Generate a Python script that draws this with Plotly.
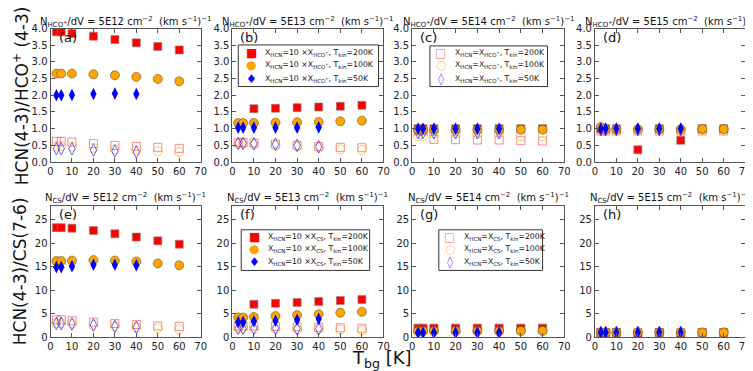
import plotly.graph_objects as go

# background temperatures [K]
tbg = [2.73, 5, 10, 20, 30, 40, 50, 60]
tbg50 = tbg[:6]

# HCN/HCO+ ratios, filled = X_HCN = 10 X_HCO+, open = X_HCN = X_HCO+
a_fill_200 = [3.9, 3.9, 3.85, 3.77, 3.67, 3.57, 3.46, 3.36]
a_fill_100 = [2.65, 2.65, 2.65, 2.63, 2.6, 2.55, 2.49, 2.42]
a_fill_50 = [2.0, 2.0, 2.01, 2.04, 2.05, 2.04]
a_open_200 = [0.62, 0.62, 0.6, 0.55, 0.5, 0.47, 0.44, 0.41]
a_open_100 = [0.48, 0.48, 0.46, 0.42, 0.38, 0.35, 0.32, 0.3]
a_open_50 = [0.4, 0.4, 0.4, 0.36, 0.33, 0.3]

b_fill_200 = [None, None, 1.6, 1.61, 1.63, 1.65, 1.67, 1.7]
b_fill_100 = [1.17, 1.17, 1.17, 1.18, 1.19, 1.2, 1.22, 1.24]
b_fill_50 = [1.03, 1.03, 1.03, 1.03, 1.03, 1.04]
b_open_200 = [0.58, 0.58, 0.57, 0.54, 0.5, 0.47, 0.44, 0.43]
b_open_100 = [0.55, 0.55, 0.53, 0.5, 0.46, 0.43, 0.38, 0.36]
b_open_50 = [0.56, 0.56, 0.55, 0.53, 0.5, 0.46]

c_fill_200 = [1.0, 1.0, 1.0, 1.0, 1.0, 1.0, 1.0, 1.0]
c_fill_100 = [0.97, 0.97, 0.97, 0.97, 0.97, 0.97, 0.97, 0.97]
c_fill_50 = [1.0, 1.0, 1.0, 1.0, 1.0, 1.0]
c_open_200 = [0.93, 0.93, 0.68, 0.67, 0.66, 0.66, 0.64, 0.63]
c_open_100 = [0.78, 0.78, 0.85, 0.85, 0.85, 0.85, 0.77, 0.77]
c_open_50 = [0.88, 0.88, 0.88, 0.88, 0.88, 0.88]

d_fill_200 = [1.0, 1.0, 1.0, 0.37, 1.0, 0.65, 1.0, 1.0]
d_fill_100 = [1.05, 0.97, 0.98, 0.98, 0.98, 0.98, 0.99, 0.99]
d_fill_50 = [1.0, 1.0, 1.0, 1.0, 1.0, 1.0]
d_open_200 = [0.93, 0.93, 0.93, 0.93, 0.93, 0.93, 0.93, 0.93]
d_open_100 = [0.97, 0.97, 0.97, 0.97, 0.97, 0.97, 0.97, 0.97]
d_open_50 = [0.97, 0.97, 0.97, 0.97, 0.97, 0.97]

# HCN/CS ratios
e_fill_200 = [23.3, 23.3, 23.2, 22.7, 22.0, 21.3, 20.5, 19.8]
e_fill_100 = [16.2, 16.2, 16.3, 16.4, 16.3, 16.1, 15.7, 15.3]
e_fill_50 = [14.9, 14.9, 15.1, 15.4, 15.4, 15.3]
e_open_200 = [3.7, 3.7, 3.5, 3.2, 2.9, 2.7, 2.4, 2.3]
e_open_100 = [3.0, 3.0, 2.9, 2.6, 2.3, 2.1, 1.9, 1.7]
e_open_50 = [2.9, 2.9, 2.8, 2.6, 2.3, 2.1]

f_fill_200 = [None, None, 7.0, 7.2, 7.4, 7.6, 7.8, 8.0]
f_fill_100 = [4.2, 4.2, 4.3, 4.5, 4.7, 4.9, 5.2, 5.4]
f_fill_50 = [3.2, 3.2, 3.4, 3.5, 3.7, 3.9]
f_open_200 = [2.4, 2.4, 2.4, 2.3, 2.2, 2.1, 2.0, 1.9]
f_open_100 = [1.9, 1.9, 1.8, 1.8, 1.7, 1.7, 1.6, 1.5]
f_open_50 = [1.9, 1.9, 1.9, 1.9, 1.8, 1.8]

g_fill_200 = [1.9, 1.9, 1.9, 1.9, 1.9, 1.9, 1.9, 1.9]
g_fill_100 = [1.3, 1.3, 1.3, 1.3, 1.3, 1.3, 1.35, 1.35]
g_fill_50 = [1.0, 1.0, 1.0, 1.0, 1.0, 1.0]
g_open_200 = [1.9, 1.9, 1.9, 1.9, 1.9, 1.9, 1.9, 1.9]
g_open_100 = [1.2, 1.2, 1.2, 1.2, 1.2, 1.2, 1.3, 1.3]
g_open_50 = [1.1, 1.1, 1.1, 1.1, 1.1, 1.1]

h_fill_200 = [1.0, 1.0, 1.0, 0.5, 1.0, 0.55, 1.0, 1.0]
h_fill_100 = [1.0, 1.0, 1.0, 1.0, 1.0, 1.0, 1.0, 1.0]
h_fill_50 = [1.0, 1.0, 1.0, 1.0, 1.0, 1.0]
h_open_200 = [1.0, 1.0, 1.0, 1.0, 1.0, 1.0, 1.0, 1.0]
h_open_100 = [1.0, 1.0, 1.0, 1.0, 1.0, 1.0, 1.0, 1.0]
h_open_50 = [1.0, 1.0, 1.0, 1.0, 1.0, 1.0]

panel_labels = ['(a)', '(b)', '(c)', '(d)', '(e)', '(f)', '(g)', '(h)']
col_dens = ['5E12', '5E13', '5E14', '5E15']
tkins = [200, 100, 50]

panels = [
    (a_fill_200, a_fill_100, a_fill_50, a_open_200, a_open_100, a_open_50),
    (b_fill_200, b_fill_100, b_fill_50, b_open_200, b_open_100, b_open_50),
    (c_fill_200, c_fill_100, c_fill_50, c_open_200, c_open_100, c_open_50),
    (d_fill_200, d_fill_100, d_fill_50, d_open_200, d_open_100, d_open_50),
    (e_fill_200, e_fill_100, e_fill_50, e_open_200, e_open_100, e_open_50),
    (f_fill_200, f_fill_100, f_fill_50, f_open_200, f_open_100, f_open_50),
    (g_fill_200, g_fill_100, g_fill_50, g_open_200, g_open_100, g_open_50),
    (h_fill_200, h_fill_100, h_fill_50, h_open_200, h_open_100, h_open_50),
]

W, H = 753, 371
x_px = [(40, 192), (224, 377), (406, 560), (591, 743)]
y_px = [(15, 153), (198, 334)]

FONT = 'DejaVu Sans'

OPEN_COLORS = ['rgba(255,60,60,0.6)', 'rgba(255,165,0,0.6)', 'rgba(40,40,255,0.7)']
FILL_COLORS = ['#ff0000', '#ffa500', '#0000ff']

fig = go.Figure()

for i, series in enumerate(panels):
    n = i + 1
    xa = 'x' if n == 1 else f'x{n}'
    ya = 'y' if n == 1 else f'y{n}'
    fill200, fill100, fill50, open200, open100, open50 = series

    traces = [
        (tbg, open200, dict(symbol='square-open', size=8, color=OPEN_COLORS[0], line=dict(width=1))),
        (tbg, open100, dict(symbol='circle-open', size=9, color=OPEN_COLORS[1], line=dict(width=1))),
        (tbg50, open50, dict(symbol='diamond-tall-open', size=9, color=OPEN_COLORS[2], line=dict(width=1))),
        (tbg, fill200, dict(symbol='square', size=8, color=FILL_COLORS[0], line=dict(width=0.6, color='#888'))),
        (tbg, fill100, dict(symbol='circle', size=9, color=FILL_COLORS[1], line=dict(width=0.6, color='#6a5020'))),
        (tbg50, fill50, dict(symbol='diamond-tall', size=9, color=FILL_COLORS[2], line=dict(width=0))),
    ]
    for xs, ys, mk in traces:
        fig.add_trace(go.Scatter(x=xs, y=ys, mode='markers', marker=mk,
                                 xaxis=xa, yaxis=ya, showlegend=False,
                                 hoverinfo='skip'))

axis_style = dict(showgrid=False, zeroline=False, showline=True, mirror='ticks',
                  linecolor='#555', linewidth=1, ticks='inside', ticklen=4,
                  tickcolor='#555', ticklabeloverflow='allow',
                  tickfont=dict(family=FONT, size=10, color='#222'))

layout = dict(width=W, height=H, margin=dict(l=0, r=0, t=0, b=0),
              plot_bgcolor='white', paper_bgcolor='white', showlegend=False,
              font=dict(family=FONT, color='#111'))

for i in range(8):
    n = i + 1
    col, row = i % 4, i // 4
    x0, x1 = x_px[col]
    y0, y1 = y_px[row]
    xk = 'xaxis' if n == 1 else f'xaxis{n}'
    yk = 'yaxis' if n == 1 else f'yaxis{n}'
    layout[xk] = dict(axis_style, domain=[x0 / W, x1 / W], range=[0, 70], dtick=10,
                      anchor='y' if n == 1 else f'y{n}')
    if row == 0:
        ycfg = dict(range=[0, 4], dtick=0.5, tickformat='.1f')
    else:
        ycfg = dict(range=[0, 28], dtick=5, tick0=0)
    layout[yk] = dict(axis_style, domain=[1 - y1 / H, 1 - y0 / H],
                      anchor='x' if n == 1 else f'x{n}', **ycfg)

fig.update_layout(**layout)

# panel titles and labels
for i in range(8):
    n = i + 1
    col, row = i % 4, i // 4
    xr = 'x domain' if n == 1 else f'x{n} domain'
    yr = 'y domain' if n == 1 else f'y{n} domain'
    mol = 'N<sub>HCO<sup>+</sup></sub>' if row == 0 else 'N<sub>CS</sub>'
    title = f'{mol}/dV = {col_dens[col]} cm<sup>−2</sup>  (km s<sup>−1</sup>)<sup>−1</sup>'
    fig.add_annotation(text=title, xref=xr, yref='paper', x=0.5,
                       y=1 - (8 if row == 0 else 190) / H, yanchor='middle',
                       showarrow=False, font=dict(family=FONT, size=10, color='#111'))
    fig.add_annotation(text=panel_labels[i], xref=xr, yref=yr, x=0.04, y=0.93,
                       xanchor='left', yanchor='middle', showarrow=False,
                       font=dict(family=FONT, size=13, color='#111'))

# hand-made legends: (box px, marker x, text x, row y's, kind, molecule)
legends = [
    ((230, 32, 372, 75), 243, 255, [40, 53, 67], 'fill', 'HCO'),
    ((424, 33, 543, 75), 435, 447, [40, 53, 67], 'open', 'HCO'),
    ((233, 223, 363, 265), 246, 258, [230, 243, 256], 'fill', 'CS'),
    ((433, 223, 538, 265), 444, 456, [230, 243, 256], 'open', 'CS'),
]
fill_glyphs = ['■', '●', '♦']
open_glyphs = ['□', '○', '◊']

for (bx0, by0, bx1, by1), mx, tx, rows, kind, mol in legends:
    fig.add_shape(type='rect', xref='paper', yref='paper',
                  x0=bx0 / W, x1=bx1 / W, y0=1 - by1 / H, y1=1 - by0 / H,
                  line=dict(color='#333', width=1), fillcolor='white', layer='above')
    xm = 'X<sub>HCO<sup>+</sup></sub>' if mol == 'HCO' else 'X<sub>CS</sub>'
    pre = 'X<sub>HCN</sub>=10 ×' if kind == 'fill' else 'X<sub>HCN</sub>='
    glyphs = fill_glyphs if kind == 'fill' else open_glyphs
    colors = FILL_COLORS if kind == 'fill' else OPEN_COLORS
    for j, ry in enumerate(rows):
        fig.add_annotation(text=glyphs[j], xref='paper', yref='paper',
                           x=mx / W, y=1 - ry / H, xanchor='center', yanchor='middle',
                           showarrow=False, font=dict(family=FONT, size=12, color=colors[j]))
        fig.add_annotation(text=f'{pre}{xm}, T<sub>kin</sub>={tkins[j]}K',
                           xref='paper', yref='paper', x=tx / W, y=1 - ry / H,
                           xanchor='left', yanchor='middle', showarrow=False,
                           font=dict(family=FONT, size=7.8, color='#111'))

fig.add_annotation(text='HCN(4-3)/HCO<sup>+</sup> (4-3)', xref='paper', yref='paper',
                   x=10 / W, y=1 - 84 / H, textangle=-90, showarrow=False,
                   xanchor='center', yanchor='middle',
                   font=dict(family=FONT, size=17, color='#111'))
fig.add_annotation(text='HCN(4-3)/CS(7-6)', xref='paper', yref='paper',
                   x=10 / W, y=1 - 266 / H, textangle=-90, showarrow=False,
                   xanchor='center', yanchor='middle',
                   font=dict(family=FONT, size=17, color='#111'))
fig.add_annotation(text='T<sub>bg</sub> [K]', xref='paper', yref='paper',
                   x=375 / W, y=1 - 357 / H, showarrow=False,
                   xanchor='center', yanchor='middle',
                   font=dict(family=FONT, size=18, color='#111'))

fig.write_html('out.html')
